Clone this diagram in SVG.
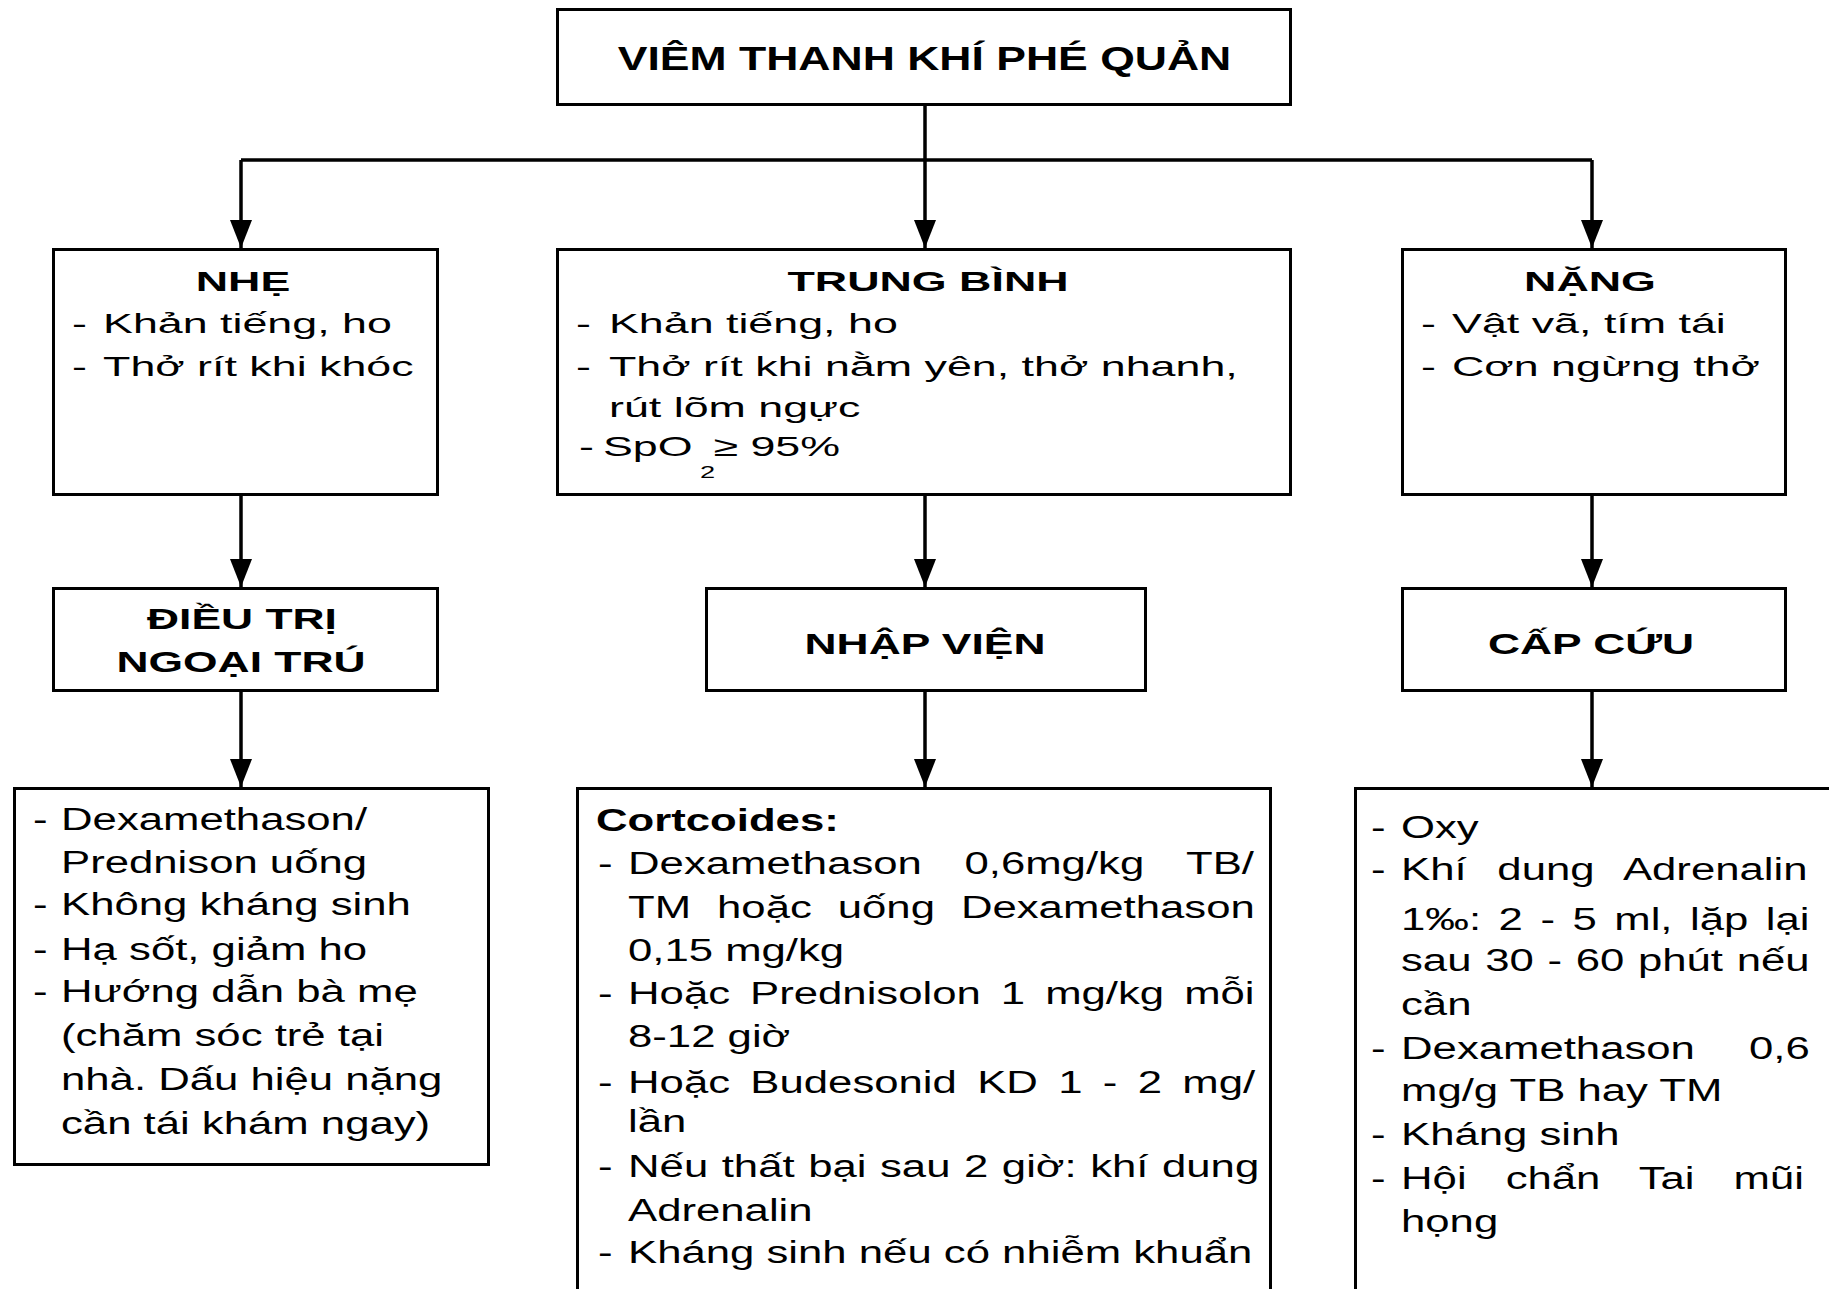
<svg xmlns="http://www.w3.org/2000/svg" width="1829" height="1289" viewBox="0 0 1829 1289">
<style>
.box{fill:#fff;stroke:#000;stroke-width:3}
.conn{fill:none;stroke:#000;stroke-width:3.5}
text{font-family:"Liberation Sans",Arial,sans-serif;fill:#000}
.t1{font-size:34px;font-weight:bold}
.r2b{font-size:28px;font-weight:bold}
.r2{font-size:28px}
.r3b{font-size:30px;font-weight:bold}
.r4{font-size:31px}
.r4b{font-size:31px;font-weight:bold}
</style>
<defs>
<marker id="ah" markerUnits="userSpaceOnUse" markerWidth="30" markerHeight="24" refX="28" refY="12" orient="auto">
<path d="M0,1 L28,12 L0,23 Z" fill="#000"/>
</marker>
</defs>
<rect width="1829" height="1289" fill="#fff"/>

<g id="connectors">
<path class="conn" d="M925,106 V160 M241,160 H1592"/>
<path class="conn" d="M241,160 V248" marker-end="url(#ah)"/>
<path class="conn" d="M925,160 V248" marker-end="url(#ah)"/>
<path class="conn" d="M1592,160 V248" marker-end="url(#ah)"/>
<path class="conn" d="M241,496 V587" marker-end="url(#ah)"/>
<path class="conn" d="M925,496 V587" marker-end="url(#ah)"/>
<path class="conn" d="M1592,496 V587" marker-end="url(#ah)"/>
<path class="conn" d="M241,692 V787" marker-end="url(#ah)"/>
<path class="conn" d="M925,692 V787" marker-end="url(#ah)"/>
<path class="conn" d="M1592,692 V787" marker-end="url(#ah)"/>
</g>

<g id="root">
<rect class="box" x="557.5" y="9.5" width="733" height="95"/>
<text class="t1" text-anchor="middle" transform="matrix(1.31 0 0 1 924.5 70)">VIÊM THANH KHÍ PHÉ QUẢN</text>
</g>

<g id="nhe">
<rect class="box" x="53.5" y="249.5" width="384" height="245"/>
<text class="r2b" text-anchor="middle" transform="matrix(1.6 0 0 1 243 291)">NHẸ</text>
<text class="r2" transform="matrix(1.6 0 0 1 72 333)"><tspan x="0">-</tspan><tspan x="19.4">Khản tiếng, ho</tspan></text>
<text class="r2" transform="matrix(1.6 0 0 1 72 376)"><tspan x="0">-</tspan><tspan x="19.4">Thở rít khi khóc</tspan></text>
</g>

<g id="trung-binh">
<rect class="box" x="557.5" y="249.5" width="733" height="245"/>
<text class="r2b" text-anchor="middle" transform="matrix(1.6 0 0 1 928 291)">TRUNG BÌNH</text>
<text class="r2" transform="matrix(1.6 0 0 1 576 333)"><tspan x="0">-</tspan><tspan x="20.6">Khản tiếng, ho</tspan></text>
<text class="r2" transform="matrix(1.6 0 0 1 576 376)"><tspan x="0">-</tspan><tspan x="20.6">Thở rít khi nằm yên, thở nhanh,</tspan></text>
<text class="r2" transform="matrix(1.6 0 0 1 609 417)">rút lõm ngực</text>
<text class="r2" transform="matrix(1.6 0 0 1 579 456)"><tspan x="0">-</tspan><tspan x="15">SpO</tspan><tspan x="75.6" y="22" font-size="17">2</tspan><tspan x="84" y="0">≥ 95%</tspan></text>
</g>

<g id="nang">
<rect class="box" x="1402.5" y="249.5" width="383" height="245"/>
<text class="r2b" text-anchor="middle" transform="matrix(1.6 0 0 1 1590 291)">NẶNG</text>
<text class="r2" transform="matrix(1.6 0 0 1 1421 333)"><tspan x="0">-</tspan><tspan x="19.4">Vật vã, tím tái</tspan></text>
<text class="r2" transform="matrix(1.6 0 0 1 1421 376)"><tspan x="0">-</tspan><tspan x="19.4">Cơn ngừng thở</tspan></text>
</g>

<g id="dieu-tri">
<rect class="box" x="53.5" y="588.5" width="384" height="102"/>
<text class="r3b" text-anchor="middle" transform="matrix(1.48 0 0 1 242 629)">ĐIỀU TRỊ</text>
<text class="r3b" text-anchor="middle" transform="matrix(1.48 0 0 1 241 672)">NGOẠI TRÚ</text>
</g>

<g id="nhap-vien">
<rect class="box" x="706.5" y="588.5" width="439" height="102"/>
<text class="r3b" text-anchor="middle" transform="matrix(1.48 0 0 1 925 654)">NHẬP VIỆN</text>
</g>

<g id="cap-cuu">
<rect class="box" x="1402.5" y="588.5" width="383" height="102"/>
<text class="r3b" text-anchor="middle" transform="matrix(1.48 0 0 1 1591 654)">CẤP CỨU</text>
</g>

<g id="ngoai-tru-detail">
<rect class="box" x="14.5" y="788.5" width="474" height="376"/>
<text class="r4" transform="matrix(1.41 0 0 1 33 830)"><tspan x="0">-</tspan><tspan x="19.9">Dexamethason/</tspan></text>
<text class="r4" transform="matrix(1.41 0 0 1 61 873)">Prednison uống</text>
<text class="r4" transform="matrix(1.41 0 0 1 33 915)"><tspan x="0">-</tspan><tspan x="19.9">Không kháng sinh</tspan></text>
<text class="r4" transform="matrix(1.41 0 0 1 33 960)"><tspan x="0">-</tspan><tspan x="19.9">Hạ sốt, giảm ho</tspan></text>
<text class="r4" transform="matrix(1.41 0 0 1 33 1002)"><tspan x="0">-</tspan><tspan x="19.9">Hướng dẫn bà mẹ</tspan></text>
<text class="r4" transform="matrix(1.41 0 0 1 61 1046)">(chăm sóc trẻ tại</text>
<text class="r4" transform="matrix(1.41 0 0 1 61 1090)">nhà. Dấu hiệu nặng</text>
<text class="r4" transform="matrix(1.41 0 0 1 61 1134)">cần tái khám ngay)</text>
</g>

<g id="nhap-vien-detail">
<rect class="box" x="577.5" y="788.5" width="693" height="530"/>
<text class="r4b" transform="matrix(1.41 0 0 1 596 831)">Cortcoides:</text>
<text class="r4" transform="matrix(1.41 0 0 1 598 874)"><tspan x="0">-</tspan><tspan x="21.3" word-spacing="21.6">Dexamethason 0,6mg/kg TB/</tspan></text>
<text class="r4" word-spacing="9.8" transform="matrix(1.41 0 0 1 628 918)">TM hoặc uống Dexamethason</text>
<text class="r4" transform="matrix(1.41 0 0 1 628 961)">0,15 mg/kg</text>
<text class="r4" transform="matrix(1.41 0 0 1 598 1004)"><tspan x="0">-</tspan><tspan x="21.3" word-spacing="5.6">Hoặc Prednisolon 1 mg/kg mỗi</tspan></text>
<text class="r4" transform="matrix(1.41 0 0 1 628 1047)">8-12 giờ</text>
<text class="r4" transform="matrix(1.41 0 0 1 598 1093)"><tspan x="0">-</tspan><tspan x="21.3" word-spacing="5.8">Hoặc Budesonid KD 1 - 2 mg/</tspan></text>
<text class="r4" transform="matrix(1.41 0 0 1 628 1132)">lần</text>
<text class="r4" transform="matrix(1.41 0 0 1 598 1177)"><tspan x="0">-</tspan><tspan x="21.3" word-spacing="1">Nếu thất bại sau 2 giờ: khí dung</tspan></text>
<text class="r4" transform="matrix(1.41 0 0 1 628 1221)">Adrenalin</text>
<text class="r4" transform="matrix(1.41 0 0 1 598 1263)"><tspan x="0">-</tspan><tspan x="21.3">Kháng sinh nếu có nhiễm khuẩn</tspan></text>
</g>

<g id="cap-cuu-detail">
<rect class="box" x="1355.5" y="788.5" width="520" height="530"/>
<text class="r4" transform="matrix(1.41 0 0 1 1371 838)"><tspan x="0">-</tspan><tspan x="21.3">Oxy</tspan></text>
<text class="r4" transform="matrix(1.41 0 0 1 1371 880)"><tspan x="0">-</tspan><tspan x="21.3" word-spacing="13.2">Khí dung Adrenalin</tspan></text>
<text class="r4" word-spacing="3.8" transform="matrix(1.41 0 0 1 1401 930)">1‰: 2 - 5 ml, lặp lại</text>
<text class="r4" word-spacing="1.1" transform="matrix(1.41 0 0 1 1401 971)">sau 30 - 60 phút nếu</text>
<text class="r4" transform="matrix(1.41 0 0 1 1401 1015)">cần</text>
<text class="r4" transform="matrix(1.41 0 0 1 1371 1059)"><tspan x="0">-</tspan><tspan x="21.3" word-spacing="29.8">Dexamethason 0,6</tspan></text>
<text class="r4" transform="matrix(1.41 0 0 1 1401 1101)">mg/g TB hay TM</text>
<text class="r4" transform="matrix(1.41 0 0 1 1371 1145)"><tspan x="0">-</tspan><tspan x="21.3">Kháng sinh</tspan></text>
<text class="r4" transform="matrix(1.41 0 0 1 1371 1189)"><tspan x="0">-</tspan><tspan x="21.3" word-spacing="19.1">Hội chẩn Tai mũi</tspan></text>
<text class="r4" transform="matrix(1.41 0 0 1 1401 1232)">họng</text>
</g>
</svg>
